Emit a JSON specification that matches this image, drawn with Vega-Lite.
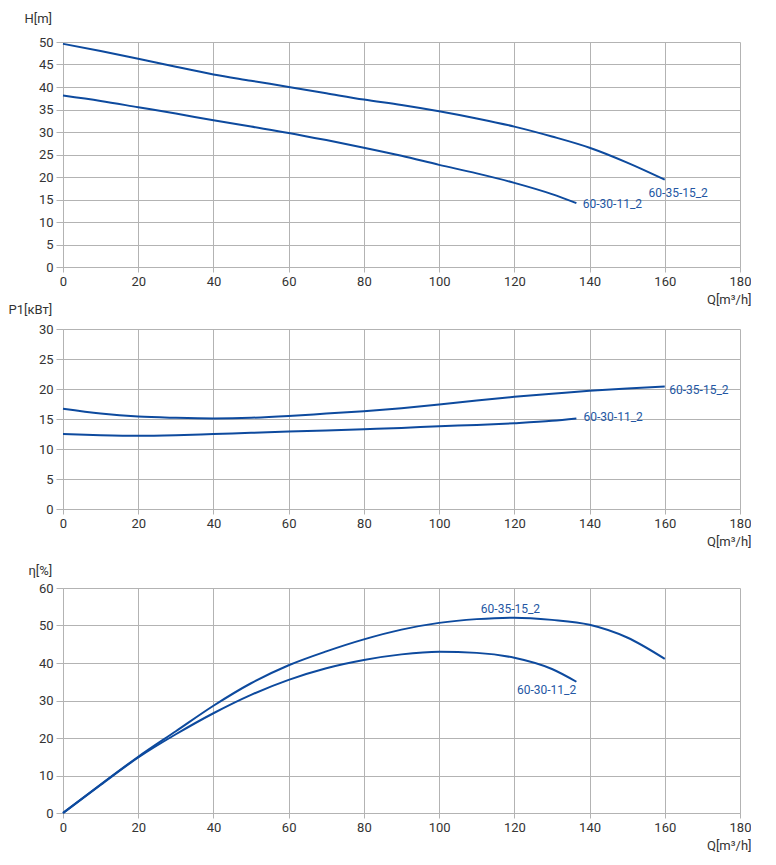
{
  "$schema": "https://vega.github.io/schema/vega-lite/v6.json",
  "padding": {"left": 8, "top": 12, "right": 0, "bottom": 0},
  "background": "white",
  "config": {
    "view": {"stroke": null},
    "font": "Roboto",
    "axis": {
      "grid": true,
      "gridColor": "#b3b3b3",
      "gridWidth": 1,
      "domainColor": "#b3b3b3",
      "domainWidth": 1,
      "tickColor": "#b3b3b3",
      "labelFont": "Roboto",
      "labelFontSize": 13,
      "labelColor": "#333333",
      "labelOverlap": false,
      "labelFlush": false,
      "labelBound": false,
      "titleFont": "Roboto",
      "titleFontSize": 13,
      "titleFontWeight": "normal",
      "titleColor": "#333333",
      "titleAngle": 0,
      "titleBaseline": "middle"
    },
    "axisX": {"tickSize": 5, "labelPadding": 3, "titleAlign": "right", "titleX": 688, "titleY": 32},
    "axisY": {"tickSize": 7, "labelPadding": 3, "titleAlign": "left"}
  },
  "datasets": {
    "head": [
      {"Q": 0, "H": 49.6, "pump": "60-35-15_2"},
      {"Q": 10, "H": 48.0, "pump": "60-35-15_2"},
      {"Q": 20, "H": 46.3, "pump": "60-35-15_2"},
      {"Q": 30, "H": 44.5, "pump": "60-35-15_2"},
      {"Q": 40, "H": 42.8, "pump": "60-35-15_2"},
      {"Q": 50, "H": 41.4, "pump": "60-35-15_2"},
      {"Q": 60, "H": 40.0, "pump": "60-35-15_2"},
      {"Q": 70, "H": 38.6, "pump": "60-35-15_2"},
      {"Q": 80, "H": 37.2, "pump": "60-35-15_2"},
      {"Q": 90, "H": 36.0, "pump": "60-35-15_2"},
      {"Q": 100, "H": 34.6, "pump": "60-35-15_2"},
      {"Q": 110, "H": 33.0, "pump": "60-35-15_2"},
      {"Q": 120, "H": 31.2, "pump": "60-35-15_2"},
      {"Q": 130, "H": 29.0, "pump": "60-35-15_2"},
      {"Q": 140, "H": 26.5, "pump": "60-35-15_2"},
      {"Q": 150, "H": 23.2, "pump": "60-35-15_2"},
      {"Q": 160, "H": 19.4, "pump": "60-35-15_2"},
      {"Q": 0, "H": 38.1, "pump": "60-30-11_2"},
      {"Q": 10, "H": 36.9, "pump": "60-30-11_2"},
      {"Q": 20, "H": 35.5, "pump": "60-30-11_2"},
      {"Q": 30, "H": 34.1, "pump": "60-30-11_2"},
      {"Q": 40, "H": 32.6, "pump": "60-30-11_2"},
      {"Q": 50, "H": 31.2, "pump": "60-30-11_2"},
      {"Q": 60, "H": 29.8, "pump": "60-30-11_2"},
      {"Q": 70, "H": 28.2, "pump": "60-30-11_2"},
      {"Q": 80, "H": 26.5, "pump": "60-30-11_2"},
      {"Q": 90, "H": 24.7, "pump": "60-30-11_2"},
      {"Q": 100, "H": 22.7, "pump": "60-30-11_2"},
      {"Q": 110, "H": 20.8, "pump": "60-30-11_2"},
      {"Q": 120, "H": 18.7, "pump": "60-30-11_2"},
      {"Q": 130, "H": 16.2, "pump": "60-30-11_2"},
      {"Q": 136.5, "H": 14.2, "pump": "60-30-11_2"}
    ],
    "headLabels": [
      {"Q": 155.7, "H": 16.5, "pump": "60-35-15_2"},
      {"Q": 138.2, "H": 13.9, "pump": "60-30-11_2"}
    ],
    "power": [
      {"Q": 0, "H": 16.7, "pump": "60-35-15_2"},
      {"Q": 10, "H": 15.9, "pump": "60-35-15_2"},
      {"Q": 20, "H": 15.4, "pump": "60-35-15_2"},
      {"Q": 30, "H": 15.2, "pump": "60-35-15_2"},
      {"Q": 40, "H": 15.1, "pump": "60-35-15_2"},
      {"Q": 50, "H": 15.2, "pump": "60-35-15_2"},
      {"Q": 60, "H": 15.5, "pump": "60-35-15_2"},
      {"Q": 70, "H": 15.9, "pump": "60-35-15_2"},
      {"Q": 80, "H": 16.3, "pump": "60-35-15_2"},
      {"Q": 90, "H": 16.8, "pump": "60-35-15_2"},
      {"Q": 100, "H": 17.4, "pump": "60-35-15_2"},
      {"Q": 110, "H": 18.1, "pump": "60-35-15_2"},
      {"Q": 120, "H": 18.7, "pump": "60-35-15_2"},
      {"Q": 130, "H": 19.2, "pump": "60-35-15_2"},
      {"Q": 140, "H": 19.7, "pump": "60-35-15_2"},
      {"Q": 150, "H": 20.1, "pump": "60-35-15_2"},
      {"Q": 160, "H": 20.4, "pump": "60-35-15_2"},
      {"Q": 0, "H": 12.5, "pump": "60-30-11_2"},
      {"Q": 10, "H": 12.3, "pump": "60-30-11_2"},
      {"Q": 20, "H": 12.2, "pump": "60-30-11_2"},
      {"Q": 30, "H": 12.3, "pump": "60-30-11_2"},
      {"Q": 40, "H": 12.5, "pump": "60-30-11_2"},
      {"Q": 50, "H": 12.7, "pump": "60-30-11_2"},
      {"Q": 60, "H": 12.9, "pump": "60-30-11_2"},
      {"Q": 70, "H": 13.1, "pump": "60-30-11_2"},
      {"Q": 80, "H": 13.3, "pump": "60-30-11_2"},
      {"Q": 90, "H": 13.5, "pump": "60-30-11_2"},
      {"Q": 100, "H": 13.8, "pump": "60-30-11_2"},
      {"Q": 110, "H": 14.0, "pump": "60-30-11_2"},
      {"Q": 120, "H": 14.3, "pump": "60-30-11_2"},
      {"Q": 130, "H": 14.7, "pump": "60-30-11_2"},
      {"Q": 136.5, "H": 15.1, "pump": "60-30-11_2"}
    ],
    "powerLabels": [
      {"Q": 161.2, "H": 19.9, "pump": "60-35-15_2"},
      {"Q": 138.4, "H": 15.3, "pump": "60-30-11_2"}
    ],
    "eff": [
      {"Q": 0, "H": 0, "pump": "60-35-15_2"},
      {"Q": 10, "H": 7.6, "pump": "60-35-15_2"},
      {"Q": 20, "H": 15.0, "pump": "60-35-15_2"},
      {"Q": 30, "H": 21.8, "pump": "60-35-15_2"},
      {"Q": 40, "H": 28.6, "pump": "60-35-15_2"},
      {"Q": 50, "H": 34.6, "pump": "60-35-15_2"},
      {"Q": 60, "H": 39.4, "pump": "60-35-15_2"},
      {"Q": 70, "H": 43.1, "pump": "60-35-15_2"},
      {"Q": 80, "H": 46.3, "pump": "60-35-15_2"},
      {"Q": 90, "H": 48.9, "pump": "60-35-15_2"},
      {"Q": 100, "H": 50.7, "pump": "60-35-15_2"},
      {"Q": 110, "H": 51.7, "pump": "60-35-15_2"},
      {"Q": 120, "H": 52.1, "pump": "60-35-15_2"},
      {"Q": 130, "H": 51.5, "pump": "60-35-15_2"},
      {"Q": 140, "H": 50.2, "pump": "60-35-15_2"},
      {"Q": 150, "H": 46.8, "pump": "60-35-15_2"},
      {"Q": 160, "H": 41.1, "pump": "60-35-15_2"},
      {"Q": 0, "H": 0, "pump": "60-30-11_2"},
      {"Q": 10, "H": 7.5, "pump": "60-30-11_2"},
      {"Q": 20, "H": 14.8, "pump": "60-30-11_2"},
      {"Q": 30, "H": 21.0, "pump": "60-30-11_2"},
      {"Q": 40, "H": 26.6, "pump": "60-30-11_2"},
      {"Q": 50, "H": 31.5, "pump": "60-30-11_2"},
      {"Q": 60, "H": 35.5, "pump": "60-30-11_2"},
      {"Q": 70, "H": 38.6, "pump": "60-30-11_2"},
      {"Q": 80, "H": 40.8, "pump": "60-30-11_2"},
      {"Q": 90, "H": 42.3, "pump": "60-30-11_2"},
      {"Q": 100, "H": 43.0, "pump": "60-30-11_2"},
      {"Q": 110, "H": 42.7, "pump": "60-30-11_2"},
      {"Q": 120, "H": 41.4, "pump": "60-30-11_2"},
      {"Q": 130, "H": 38.4, "pump": "60-30-11_2"},
      {"Q": 136.5, "H": 35.0, "pump": "60-30-11_2"}
    ],
    "effLabels": [
      {"Q": 111.1, "H": 54.4, "pump": "60-35-15_2"},
      {"Q": 120.7, "H": 32.8, "pump": "60-30-11_2"}
    ]
  },
  "spacing": 16,
  "vconcat": [
    {
      "spacing": -3,
      "vconcat": [
        {
          "width": 677,
          "height": 225,
          "encoding": {
            "x": {"field": "Q", "type": "quantitative", "scale": {"domain": [0, 180], "nice": false},
              "axis": {"values": [0, 20, 40, 60, 80, 100, 120, 140, 160, 180], "title": "Q[m³/h]"}},
            "y": {"field": "H", "type": "quantitative", "scale": {"domain": [0, 50], "nice": false},
              "axis": {"values": [0, 5, 10, 15, 20, 25, 30, 35, 40, 45, 50], "title": "H[m]", "titleX": -39, "titleY": -24}}
          },
          "layer": [
            {
              "data": {"name": "head"},
              "mark": {"type": "line", "color": "#0d4a9e", "strokeWidth": 2, "interpolate": "monotone"},
              "encoding": {"detail": {"field": "pump"}}
            },
            {
              "data": {"name": "headLabels"},
              "mark": {"type": "text", "align": "left", "baseline": "middle", "font": "Roboto", "fontSize": 12, "color": "#2457a3"},
              "encoding": {"text": {"field": "pump"}}
            }
          ]
        },
        {
          "width": 677,
          "height": 180,
          "encoding": {
            "x": {"field": "Q", "type": "quantitative", "scale": {"domain": [0, 180], "nice": false},
              "axis": {"values": [0, 20, 40, 60, 80, 100, 120, 140, 160, 180], "title": "Q[m³/h]"}},
            "y": {"field": "H", "type": "quantitative", "scale": {"domain": [0, 30], "nice": false},
              "axis": {"values": [0, 5, 10, 15, 20, 25, 30], "title": "P1[кВт]", "titleX": -55, "titleY": -20}}
          },
          "layer": [
            {
              "data": {"name": "power"},
              "mark": {"type": "line", "color": "#0d4a9e", "strokeWidth": 2, "interpolate": "monotone"},
              "encoding": {"detail": {"field": "pump"}}
            },
            {
              "data": {"name": "powerLabels"},
              "mark": {"type": "text", "align": "left", "baseline": "middle", "font": "Roboto", "fontSize": 12, "color": "#2457a3"},
              "encoding": {"text": {"field": "pump"}}
            }
          ]
        }
      ]
    },
    {
      "width": 677,
      "height": 225,
      "encoding": {
        "x": {"field": "Q", "type": "quantitative", "scale": {"domain": [0, 180], "nice": false},
          "axis": {"values": [0, 20, 40, 60, 80, 100, 120, 140, 160, 180], "title": "Q[m³/h]"}},
        "y": {"field": "H", "type": "quantitative", "scale": {"domain": [0, 60], "nice": false},
          "axis": {"values": [0, 10, 20, 30, 40, 50, 60], "title": "η[%]", "titleX": -35, "titleY": -18}}
      },
      "layer": [
        {
          "data": {"name": "eff"},
          "mark": {"type": "line", "color": "#0d4a9e", "strokeWidth": 2, "interpolate": "monotone"},
          "encoding": {"detail": {"field": "pump"}}
        },
        {
          "data": {"name": "effLabels"},
          "mark": {"type": "text", "align": "left", "baseline": "middle", "font": "Roboto", "fontSize": 12, "color": "#2457a3"},
          "encoding": {"text": {"field": "pump"}}
        }
      ]
    }
  ]
}
